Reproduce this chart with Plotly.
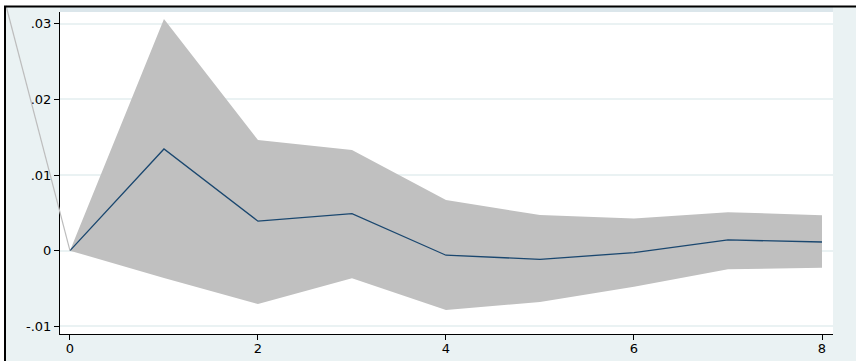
import plotly.graph_objects as go

# Impulse-response estimate with confidence band, horizons 0..8
step = [0, 1, 2, 3, 4, 5, 6, 7, 8]
irf = [0.0, 0.01345, 0.0039, 0.0049, -0.0006, -0.00114, -0.00026, 0.00142, 0.00115]
upper = [0.0, 0.03065, 0.01464, 0.01332, 0.0067, 0.00472, 0.00425, 0.0051, 0.0047]
lower = [0.0, -0.0036, -0.00705, -0.00365, -0.00785, -0.0068, -0.00476, -0.00246, -0.00225]

x_ticks = [0, 2, 4, 6, 8]
y_ticks = [-0.01, 0.0, 0.01, 0.02, 0.03]
y_ticklabels = ["-.01", "0", ".01", ".02", ".03"]

# Off-chart point reached by the faint connector running into the origin
connector_start = (-0.68, 0.0324)

W, H = 856, 361
ML, MR, MT, MB = 60, 23, 12, 27
X_RANGE = [-0.106, 8.117]
Y_RANGE = [-0.01102, 0.03157]

OUTER = "#eaf2f3"
BAND = "#c0c0c0"
LINE = "#1a476f"

plot_w = W - ML - MR
plot_h = H - MT - MB


def px_to_paper(px, py):
    return (px - ML) / plot_w, (H - MB - py) / plot_h


def data_to_paper(x, y):
    return ((x - X_RANGE[0]) / (X_RANGE[1] - X_RANGE[0]),
            (y - Y_RANGE[0]) / (Y_RANGE[1] - Y_RANGE[0]))


fig = go.Figure()

fig.add_trace(go.Scatter(x=step, y=lower, mode="lines", line=dict(width=0),
                         hoverinfo="skip", showlegend=False))
fig.add_trace(go.Scatter(x=step, y=upper, mode="lines", line=dict(width=0),
                         fill="tonexty", fillcolor=BAND,
                         hoverinfo="skip", showlegend=False))
fig.add_trace(go.Scatter(x=step, y=irf, mode="lines",
                         line=dict(color=LINE, width=1.3), showlegend=False))

shapes = []

# white strips outside the graph frame
x0, y0 = px_to_paper(0, 0)
x1, y1 = px_to_paper(W, 6)
shapes.append(dict(type="rect", xref="paper", yref="paper", x0=x0, y0=y0, x1=x1, y1=y1,
                   fillcolor="white", line=dict(width=0), layer="above"))
x0, y0 = px_to_paper(0, 0)
x1, y1 = px_to_paper(4, H)
shapes.append(dict(type="rect", xref="paper", yref="paper", x0=x0, y0=y0, x1=x1, y1=y1,
                   fillcolor="white", line=dict(width=0), layer="above"))

# tinted strip along the top of the plot region
x0, y0 = px_to_paper(ML, 7)
x1, y1 = px_to_paper(W - MR, MT)
shapes.append(dict(type="rect", xref="paper", yref="paper", x0=x0, y0=y0, x1=x1, y1=y1,
                   fillcolor="#dbe6eb", line=dict(width=0), layer="above"))

# faint connector into the origin
cx0, cy0 = data_to_paper(*connector_start)
cx1, cy1 = data_to_paper(step[0], irf[0])
shapes.append(dict(type="line", xref="paper", yref="paper", x0=cx0, y0=cy0, x1=cx1, y1=cy1,
                   line=dict(color="#bdbdbd", width=1.2), layer="above"))

# black frame edges (top and left)
x0, y0 = px_to_paper(4, 6.5)
x1, y1 = px_to_paper(W, 6.5)
shapes.append(dict(type="line", xref="paper", yref="paper", x0=x0, y0=y0, x1=x1, y1=y1,
                   line=dict(color="black", width=2), layer="above"))
x0, y0 = px_to_paper(5, 6)
x1, y1 = px_to_paper(5, H)
shapes.append(dict(type="line", xref="paper", yref="paper", x0=x0, y0=y0, x1=x1, y1=y1,
                   line=dict(color="black", width=2), layer="above"))

font = dict(family="DejaVu Sans, sans-serif", size=13, color="black")

fig.update_layout(
    width=W, height=H,
    margin=dict(l=ML, r=MR, t=MT, b=MB, pad=0),
    paper_bgcolor=OUTER,
    plot_bgcolor="white",
    showlegend=False,
    font=font,
    shapes=shapes,
    xaxis=dict(range=X_RANGE, tickmode="array", tickvals=x_ticks,
               ticktext=[str(v) for v in x_ticks], automargin=False,
               showgrid=False, zeroline=False, showline=True,
               linecolor="black", linewidth=1,
               ticks="outside", ticklen=5, tickwidth=1, tickcolor="black",
               ticklabelstandoff=-3, tickfont=font),
    yaxis=dict(range=Y_RANGE, tickmode="array", tickvals=y_ticks,
               ticktext=y_ticklabels, automargin=False,
               showgrid=True, gridcolor=OUTER, gridwidth=1.5, zeroline=False,
               showline=True, linecolor="black", linewidth=1,
               ticks="outside", ticklen=5, tickwidth=1, tickcolor="black",
               tickfont=font),
)

fig.write_html("out.html")
